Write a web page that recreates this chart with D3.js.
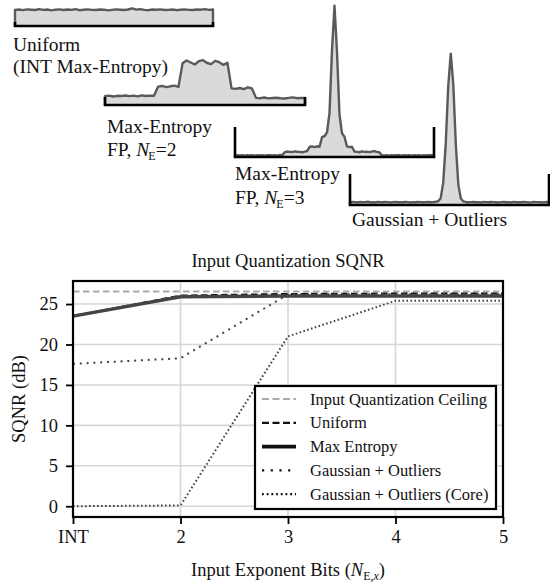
<!DOCTYPE html>
<html>
<head>
<meta charset="utf-8">
<script src="https://cdn.jsdelivr.net/npm/d3@7"></script>
<style>
  body { margin: 0; background: white; }
  svg text { font-family: "Liberation Serif", "DejaVu Serif", serif; fill: #111; }
</style>
</head>
<body>
<div id="chart"></div>
<script>
// SQNR data (dB)
var xLabels = ["INT", "2", "3", "4", "5"];
var ceilingSQNR = [26.55, 26.55, 26.55, 26.55, 26.55];
var uniformSQNR = [23.5, 26.05, 26.25, 26.3, 26.3];
var maxEntropySQNR = [23.5, 25.9, 26.0, 26.0, 26.0];
var gaussOutliersSQNR = [17.6, 18.3, 26.2, 26.2, 26.2];
var gaussCoreSQNR = [0.0, 0.1, 21.0, 25.4, 25.4];
var yTicks = [0, 5, 10, 15, 20, 25];

var legendLabels = ["Input Quantization Ceiling", "Uniform", "Max Entropy",
    "Gaussian + Outliers", "Gaussian + Outliers (Core)"];

// inset distributions (relative density, hand read)
var uniformDensity = [0.95,0.97,0.93,0.98,0.96,0.94,0.99,0.95,0.97,0.92,0.96,0.98,0.94,0.97,0.95,0.99,0.93,0.96,0.98,0.95,
    0.94,0.97,0.96,0.92,0.95,0.98,0.96,0.94,0.97,1.04,0.96,0.99,0.95,0.93,0.97,0.96,0.98,0.94,0.95,0.97,
    0.93,0.96,0.98,0.95,0.94,0.97,0.96,0.99,0.95,0.97];
var maxEnt2Density = [0.52,0.55,0.5,0.54,0.53,0.56,0.52,0.55,0.51,0.57,0.53,0.55,0.54,
    1.08,1.12,1.05,1.1,1.14,1.07,
    2.45,2.62,2.5,2.38,2.58,2.64,2.47,2.4,2.6,2.52,2.36,2.48,
    0.98,0.95,1.0,0.93,1.04,0.97,
    0.42,0.4,0.44,0.39,0.41,0.43,0.4,0.38,0.42,0.45,0.4,0.41,0.42];
var maxEnt3Density = [0.08,0.1,0.09,0.11,0.08,0.1,0.09,0.1,0.08,0.11,0.09,0.1,0.08,0.1,0.11,0.09,0.1,0.08,0.12,0.1,
    0.28,0.32,0.3,0.29,0.33,0.31,0.3,0.28,0.32,0.35,
    0.6,0.62,0.58,0.63,0.6,
    1.18,1.22,1.45,2.6,6.3,8.9,6.2,2.5,1.4,1.2,
    0.62,0.58,0.6,
    0.32,0.3,0.28,0.33,0.3,0.31,0.29,0.32,0.35,0.3,0.28,
    0.1,0.09,0.11,0.08,0.1,0.09,0.1,0.11,0.08,0.1,0.09,0.1,0.08,0.11,0.09,0.1,0.08,0.1,0.09,0.11,0.1,0.09];
var gaussDensity = [0.16,0.18,0.17,0.15,0.18,0.16,0.17,0.19,0.16,0.17,0.15,0.18,0.17,0.16,0.18,0.17,0.15,0.17,0.18,0.16,
    0.17,0.16,0.18,0.17,0.15,0.17,0.16,0.18,0.17,0.16,0.17,0.18,0.16,0.17,0.19,0.22,0.4,1.3,3.6,7.0,8.9,
    7.1,3.6,1.2,0.38,0.21,0.18,0.16,0.17,0.18,0.16,0.17,0.15,0.18,0.17,0.16,0.18,0.17,0.16,0.15,
    0.17,0.18,0.16,0.17,0.15,0.18,0.16,0.17,0.16,0.18,0.17,0.15,0.16,0.18,0.17,0.16,0.17,0.15,0.18,0.16];

var width = 550, height = 584;

var svg = d3.select("#chart")
    .append("svg")
    .attr("width", width)
    .attr("height", height);

// ---------- insets ----------
var densUnit = d3.scaleLinear().domain([0, 1]).range([0, 17]);

var insets = [
    { data: uniformDensity, x0: 15, x1: 213, base: 26, spine: 4,
      label: [[{ t: "Uniform" }], [{ t: "(INT Max-Entropy)" }]], lx: 13, ly: 51, lgap: 22 },
    { data: maxEnt2Density, x0: 105, x1: 305, base: 105, spine: 8,
      label: [[{ t: "Max-Entropy" }], [{ t: "FP, " }, { t: "N", i: true }, { t: "E", sub: true }, { t: "=2" }]], lx: 107, ly: 133, lgap: 23 },
    { data: maxEnt3Density, x0: 235, x1: 434, base: 157, spine: 30,
      label: [[{ t: "Max-Entropy" }], [{ t: "FP, " }, { t: "N", i: true }, { t: "E", sub: true }, { t: "=3" }]], lx: 235, ly: 180, lgap: 24 },
    { data: gaussDensity, x0: 350, x1: 549, base: 205, spine: 31,
      label: [[{ t: "Gaussian + Outliers" }]], lx: 352, ly: 226, lgap: 24 }
];

insets.forEach(function(ins) {
    var n = ins.data.length;
    var xs = d3.scaleLinear().domain([0, n - 1]).range([ins.x0, ins.x1]);
    var pts = ins.data.map(function(v, i) { return { i: i, v: v }; });
    var edged = [{ i: 0, v: 0 }].concat(pts).concat([{ i: n - 1, v: 0 }]);

    var area = d3.area()
        .x(function(d) { return xs(d.i); })
        .y0(ins.base)
        .y1(function(d) { return ins.base - densUnit(d.v); });
    var line = d3.line()
        .x(function(d) { return xs(d.i); })
        .y(function(d) { return ins.base - densUnit(d.v); });

    svg.append("path").datum(pts).attr("d", area).attr("fill", "#dadada");
    svg.append("path").datum(edged).attr("d", line)
        .attr("fill", "none").attr("stroke", "#5a5a5a").attr("stroke-width", 2.4)
        .attr("stroke-linejoin", "round");

    // spines: left, bottom, right
    svg.append("path")
        .attr("d", "M" + ins.x0 + "," + (ins.base - ins.spine) + "V" + ins.base + "H" + ins.x1 + "V" + (ins.base - ins.spine))
        .attr("fill", "none").attr("stroke", "black").attr("stroke-width", 2.6);

    ins.label.forEach(function(row, r) {
        var t = svg.append("text").attr("x", ins.lx).attr("y", ins.ly + r * ins.lgap)
            .style("font-size", "19.5px");
        row.forEach(function(s) {
            var ts = t.append("tspan").text(s.t);
            if (s.i) ts.style("font-style", "italic");
            if (s.sub) ts.style("font-size", "12px").attr("dy", 4).attr("dx", -1);
            else if (s.t.charAt(0) === "=") ts.attr("dy", -4);
        });
    });
});

// ---------- main chart ----------
var plotLeft = 73, plotRight = 503, plotTop = 281, plotBottom = 517;

var x = d3.scalePoint().domain(xLabels).range([plotLeft, plotRight]);
var y = d3.scaleLinear().domain([-1.33, 27.85]).range([plotBottom, plotTop]);

// grid
svg.append("g").selectAll("line").data(xLabels.slice(1, 4)).enter().append("line")
    .attr("x1", function(d) { return x(d); }).attr("x2", function(d) { return x(d); })
    .attr("y1", plotTop).attr("y2", plotBottom)
    .attr("stroke", "#d6d6d6").attr("stroke-width", 1.6);
svg.append("g").selectAll("line").data(yTicks).enter().append("line")
    .attr("x1", plotLeft).attr("x2", plotRight)
    .attr("y1", function(d) { return y(d); }).attr("y2", function(d) { return y(d); })
    .attr("stroke", "#d6d6d6").attr("stroke-width", 1.6);

// axes
var xAxis = svg.append("g")
    .attr("transform", "translate(0," + plotBottom + ")")
    .call(d3.axisBottom(x).tickSize(7).tickPadding(6));
var yAxis = svg.append("g")
    .attr("transform", "translate(" + plotLeft + ",0)")
    .call(d3.axisLeft(y).tickValues(yTicks).tickSize(7).tickPadding(8));
[xAxis, yAxis].forEach(function(ax) {
    ax.select(".domain").remove();
    ax.selectAll("line").attr("stroke", "black").attr("stroke-width", 1.8);
    ax.selectAll("text")
        .style("font-family", "Liberation Serif, DejaVu Serif, serif")
        .style("font-size", "18.5px").attr("fill", "#111");
});

// series
var series = [
    { vals: ceilingSQNR, color: "#aaaaaa", w: 2, dash: "6.5,3.5" },
    { vals: uniformSQNR, color: "#111", w: 2, dash: "6.5,3.5" },
    { vals: maxEntropySQNR, color: "#444", w: 3.4, dash: null },
    { vals: gaussOutliersSQNR, color: "#444", w: 2, dash: "2,4.8" },
    { vals: gaussCoreSQNR, color: "#444", w: 2, dash: "1.6,2.4" }
];
var legendSeries = [
    { color: "#aaaaaa", w: 2, dash: "7,3.5" },
    { color: "#111", w: 2.2, dash: "7,3.5" },
    { color: "#111", w: 3.6, dash: null },
    { color: "#111", w: 2.2, dash: "2.2,6.5" },
    { color: "#111", w: 2.2, dash: "1.8,2.9" }
];

var sqnrLine = d3.line()
    .x(function(d, i) { return x(xLabels[i]); })
    .y(function(d) { return y(d); });

series.forEach(function(s) {
    svg.append("path").datum(s.vals).attr("d", sqnrLine)
        .attr("fill", "none").attr("stroke", s.color).attr("stroke-width", s.w)
        .attr("stroke-dasharray", s.dash);
});

// frame
svg.append("rect").attr("x", plotLeft).attr("y", plotTop)
    .attr("width", plotRight - plotLeft).attr("height", plotBottom - plotTop)
    .attr("fill", "none").attr("stroke", "black").attr("stroke-width", 2.2);

// title and labels
svg.append("text").attr("x", (plotLeft + plotRight) / 2).attr("y", 267)
    .attr("text-anchor", "middle").style("font-size", "18.5px")
    .text("Input Quantization SQNR");

var xl = svg.append("text").attr("x", (plotLeft + plotRight) / 2).attr("y", 576)
    .attr("text-anchor", "middle").style("font-size", "18.5px");
xl.append("tspan").text("Input Exponent Bits (");
xl.append("tspan").text("N").style("font-style", "italic");
xl.append("tspan").text("E,").style("font-size", "12px").attr("dy", 4);
xl.append("tspan").text("x").style("font-size", "12px").style("font-style", "italic");
xl.append("tspan").text(")").attr("dy", -4);

svg.append("text")
    .attr("transform", "translate(25," + ((plotTop + plotBottom) / 2) + ") rotate(-90)")
    .attr("text-anchor", "middle").style("font-size", "18.5px")
    .text("SQNR (dB)");

// legend
var lg = svg.append("g");
lg.append("rect").attr("x", 255).attr("y", 386).attr("width", 241).attr("height", 123)
    .attr("fill", "white").attr("stroke", "black").attr("stroke-width", 2.2);
legendLabels.forEach(function(lbl, i) {
    var ly = 399 + i * 23.8;
    var s = legendSeries[i];
    lg.append("line").attr("x1", 262).attr("x2", 296).attr("y1", ly).attr("y2", ly)
        .attr("stroke", s.color).attr("stroke-width", s.w).attr("stroke-dasharray", s.dash);
    lg.append("text").attr("x", 310).attr("y", ly + 5.5)
        .style("font-size", "16.5px").text(lbl);
});
</script>
</body>
</html>
